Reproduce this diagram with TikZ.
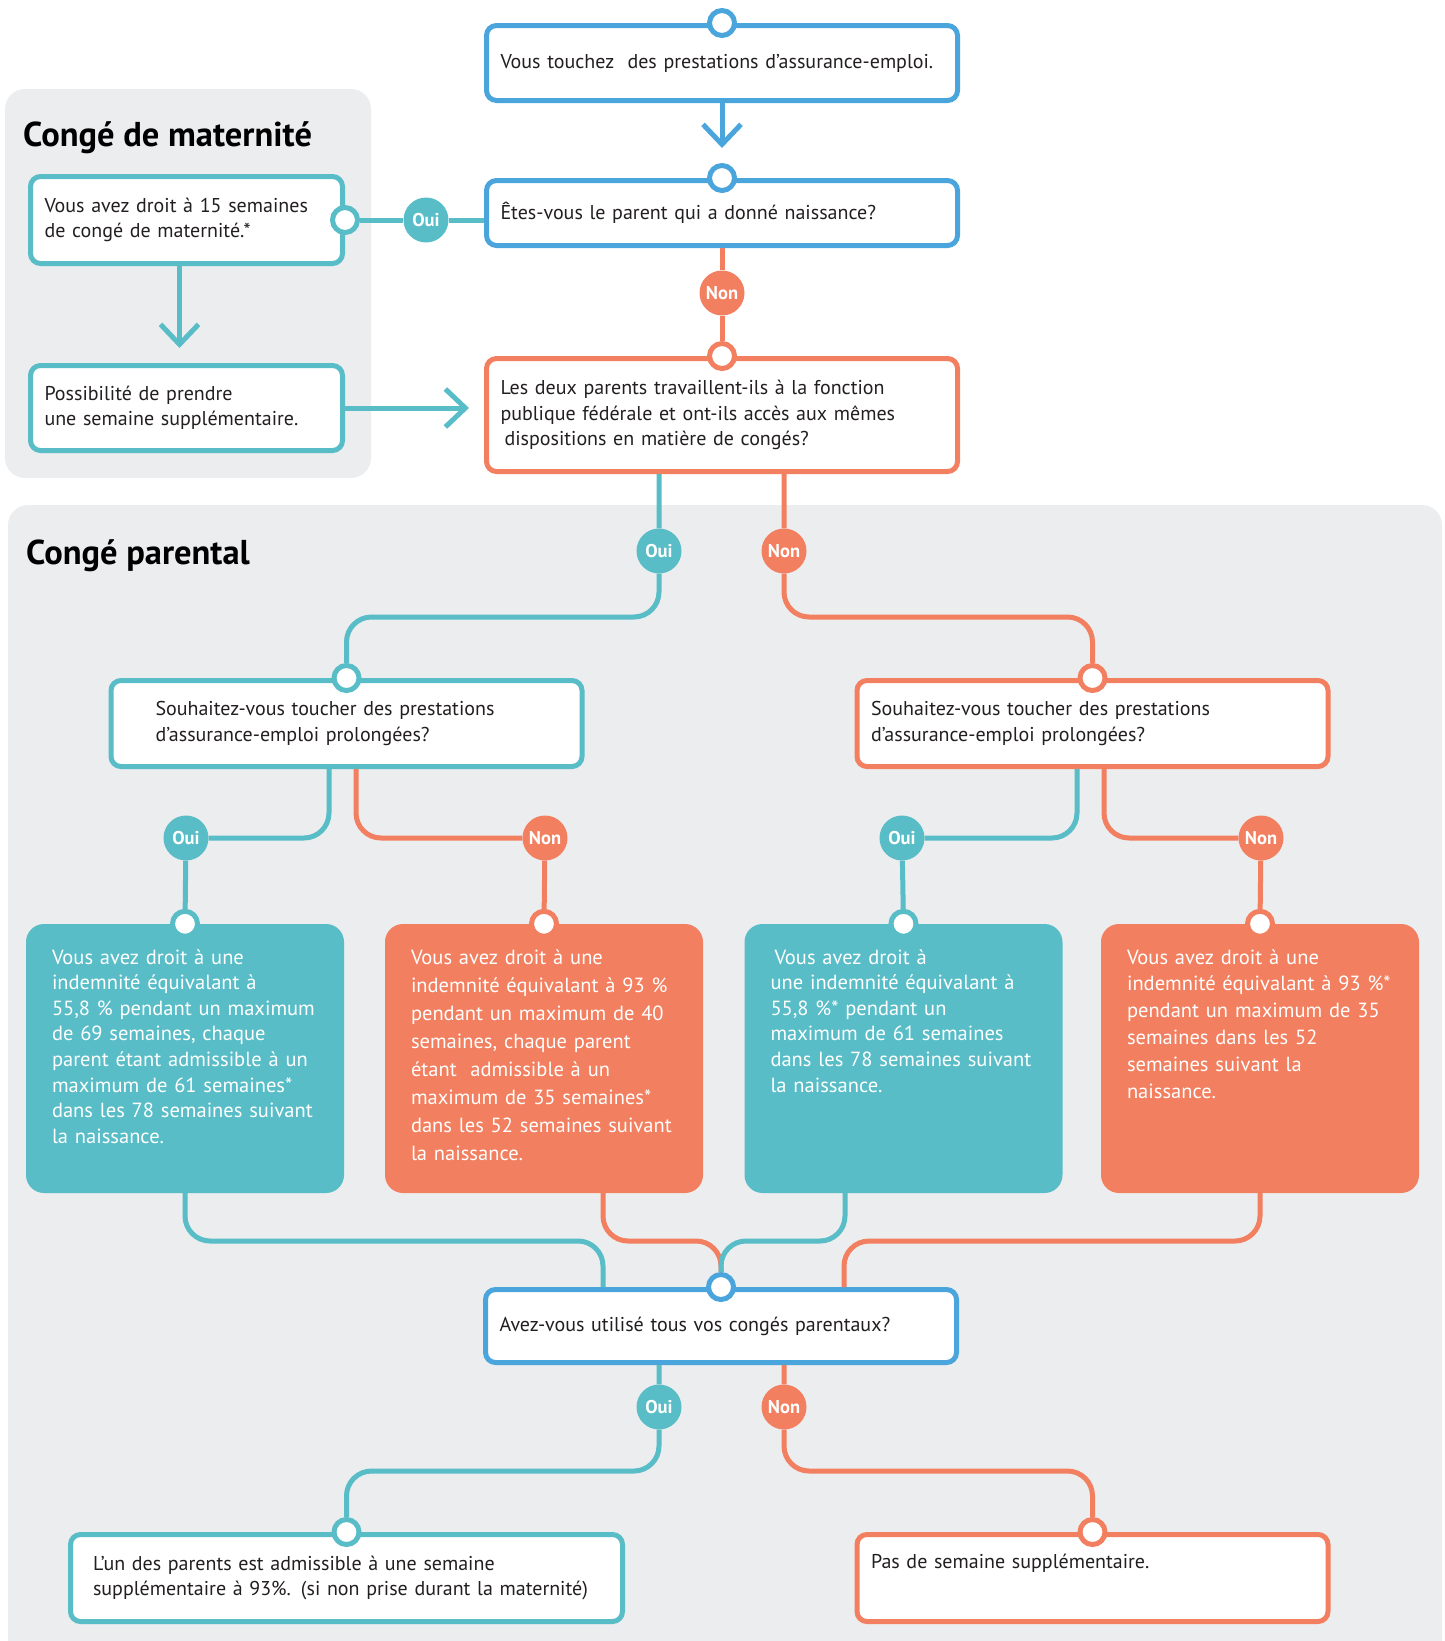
\documentclass[tikz,border=0pt]{standalone}
\usepackage{fontspec}
\setmainfont{PT Sans}
\usetikzlibrary{arrows.meta}
\definecolor{bleu}{HTML}{4AA5DC}
\definecolor{sarcelle}{HTML}{58BDC7}
\definecolor{corail}{HTML}{F27F5F}
\definecolor{fond}{HTML}{ECEDEF}
\definecolor{encre}{HTML}{231F20}
\begin{document}
\begin{tikzpicture}[x=1pt,y=-1pt,
    boite/.style={draw, line width=5pt, rounded corners=10pt, fill=white, align=left,
      text=encre, inner xsep=14pt, text width=443pt, font=\fontsize{20}{25.5}\selectfont},
    plein/.style={rounded corners=18pt, align=left, text=white, inner xsep=26pt, inner ysep=20pt,
      text width=266pt, text height=20pt, text depth=209pt},
    point/.style={circle, draw, line width=5pt, fill=white, inner sep=0pt, minimum size=25pt},
    oui/.style={circle, fill=sarcelle, text=white, inner sep=0pt, minimum size=45pt,
      font=\bfseries\fontsize{18.5}{18.5}\selectfont},
    non/.style={oui, fill=corail},
    titre/.style={anchor=base west, inner sep=0pt, text=black, font=\bfseries\fontsize{34.5}{34.5}\selectfont},
    lien/.style={line width=5pt, rounded corners=25pt},
    fleche/.style={-{Straight Barb[length=20pt,width=38pt]}, shorten >=15pt}]
  \useasboundingbox (0,0) rectangle (1445,1641);
  \fill[fond, rounded corners=20pt] (5,89) rectangle (371,478);
  \fill[fond, rounded corners=20pt] (8,505) rectangle (1442,1680);
  \node[titre] (tmat) at (23,146) {Congé de maternité};
  \node[titre] (tpar) at (26,564) {Congé parental};

  \node[boite, draw=bleu, minimum height=75pt] (bx1) at (722,63)
    {Vous touchez\ \ des prestations d’assurance-emploi.};
  \node[boite, draw=bleu, minimum height=65pt] (bx2) at (722,213)
    {Êtes-vous le parent qui a donné naissance?};
  \node[boite, draw=corail, minimum height=113pt] (bx3) at (722,415)
    {Les deux parents travaillent-ils à la fonction\\ publique fédérale et ont-ils accès aux mêmes\\ \hspace*{4pt}dispositions en matière de congés?};
  \node[boite, draw=sarcelle, text width=284pt, minimum height=87pt] (mat1) at (186.5,220)
    {Vous avez droit à 15 semaines\\ de congé de maternité.*};
  \node[boite, draw=sarcelle, text width=284pt, minimum height=85pt] (mat2) at (186.5,408)
    {Possibilité de prendre\\ une semaine supplémentaire.};
  \node[boite, draw=sarcelle, inner xsep=44.5pt, text width=382pt, minimum height=86pt] (bx4) at (346.5,723.5)
    {Souhaitez-vous toucher des prestations\\ d’assurance-emploi prolongées?};
  \node[boite, draw=corail, minimum height=86pt] (bx5) at (1092.5,723.5)
    {Souhaitez-vous toucher des prestations\\ d’assurance-emploi prolongées?};
  \node[plein, fill=sarcelle, font=\fontsize{20.5}{25.6}\selectfont] (c1) at (185,1058.5)
    {Vous avez droit à une\\ indemnité équivalant à\\ 55,8~\% pendant un maximum\\ de 69 semaines, chaque\\ parent étant admissible à un\\ maximum de 61 semaines*\\ dans les 78 semaines suivant\\ la naissance.};
  \node[plein, fill=corail, font=\fontsize{20.5}{28}\selectfont] (c2) at (544,1058.5)
    {Vous avez droit à une\\ indemnité équivalant à 93~\%\\ pendant un maximum de 40\\ semaines, chaque parent\\ étant\ \ admissible à un\\ maximum de 35 semaines*\\ dans les 52 semaines suivant\\ la naissance.};
  \node[plein, fill=sarcelle, font=\fontsize{20.5}{25.6}\selectfont] (c3) at (903.5,1058.5)
    {\hspace*{4pt}Vous avez droit à\\ une indemnité équivalant à\\ 55,8~\%* pendant un\\ maximum de 61 semaines\\ dans les 78 semaines suivant\\ la naissance.};
  \node[plein, fill=corail, font=\fontsize{20.5}{26.8}\selectfont] (c4) at (1260,1058.5)
    {Vous avez droit à une\\ indemnité équivalant à 93~\%*\\ pendant un maximum de 35\\ semaines dans les 52\\ semaines suivant la\\ naissance.};
  \node[boite, draw=bleu, minimum height=73pt] (bx6) at (721,1326)
    {Avez-vous utilisé tous vos congés parentaux?};
  \node[boite, draw=sarcelle, inner xsep=22.5pt, text width=507pt, minimum height=87pt] (bx7) at (346.5,1578)
    {L’un des parents est admissible à une semaine\\ supplémentaire à 93\%. (si non prise durant la maternité)};
  \node[boite, draw=corail, minimum height=87pt] (bx8) at (1092.5,1578)
    {Pas de semaine supplémentaire.\\ \strut};

  \node[point, draw=bleu] (pt1) at (bx1.north) {};
  \node[point, draw=bleu] (pt2) at (bx2.north) {};
  \node[point, draw=corail] (pt3) at (bx3.north) {};
  \node[point, draw=sarcelle] (ptm) at (mat1.east) {};
  \node[point, draw=sarcelle] (pt4) at (bx4.north) {};
  \node[point, draw=corail] (pt5) at (bx5.north) {};
  \node[point, draw=sarcelle] (pc1) at (c1.north) {};
  \node[point, draw=corail] (pc2) at (c2.north) {};
  \node[point, draw=sarcelle] (pc3) at (c3.north) {};
  \node[point, draw=corail] (pc4) at (c4.north) {};
  \node[point, draw=bleu] (pt6) at (bx6.north) {};
  \node[point, draw=sarcelle] (pt7) at (bx7.north) {};
  \node[point, draw=corail] (pt8) at (bx8.north) {};

  \node[oui] (oui1) at (426,220) {Oui};
  \node[non] (non1) at (722,293) {Non};
  \node[oui] (oui2) at (659,551) {Oui};
  \node[non] (non2) at (784,551) {Non};
  \node[oui] (oui3) at (186,838) {Oui};
  \node[non] (non3) at (545,838) {Non};
  \node[oui] (oui4) at (902,838) {Oui};
  \node[non] (non4) at (1261,838) {Non};
  \node[oui] (oui5) at (659,1407) {Oui};
  \node[non] (non5) at (784,1407) {Non};

  \coordinate (niv1) at (0,617);
  \coordinate (niv3) at (0,1241);
  \coordinate (niv4) at (0,1471);

  \begin{scope}[lien]
    \draw[bleu, fleche] (bx1) -- (pt2);
    \draw[sarcelle] (ptm) -- (oui1) -- (oui1 -| bx2.west);
    \draw[sarcelle, fleche] ([xshift=-7pt]mat1.south) -- ([xshift=-7pt]mat2.north);
    \draw[sarcelle, fleche] (mat2) -- (mat2 -| bx3.west);
    \draw[corail] (bx2) -- (non1) -- (pt3);
    \draw[sarcelle] (bx3.south -| oui2) -- (oui2) -- (oui2 |- niv1) -| (pt4);
    \draw[corail] (bx3.south -| non2) -- (non2) -- (non2 |- niv1) -| (pt5);
    \draw[sarcelle] ([xshift=-17.5pt]bx4.south) |- (oui3);
    \draw[corail] ([xshift=9.5pt]bx4.south) |- (non3);
    \draw[sarcelle] ([xshift=-15.5pt]bx5.south) |- (oui4);
    \draw[corail] ([xshift=11.5pt]bx5.south) |- (non4);
    \draw[sarcelle] (oui3) -- (pc1);
    \draw[corail] (non3) -- (pc2);
    \draw[sarcelle] (oui4) -- (pc3);
    \draw[corail] (non4) -- (pc4);
    \draw[sarcelle] (c1) -- (c1 |- niv3) -| ([xshift=-118pt]bx6.north);
    \draw[corail] (c4) -- (c4 |- niv3) -| ([xshift=123pt]bx6.north);
    \draw[corail] ([xshift=59pt]c2.south) |- (pt6 |- niv3) -- (pt6);
    \draw[sarcelle] ([xshift=-58.5pt]c3.south) |- (pt6 |- niv3) -- (pt6);
    \draw[sarcelle] (bx6.south -| oui5) -- (oui5) -- (oui5 |- niv4) -| (pt7);
    \draw[corail] (bx6.south -| non5) -- (non5) -- (non5 |- niv4) -| (pt8);
  \end{scope}
\end{tikzpicture}
\end{document}
